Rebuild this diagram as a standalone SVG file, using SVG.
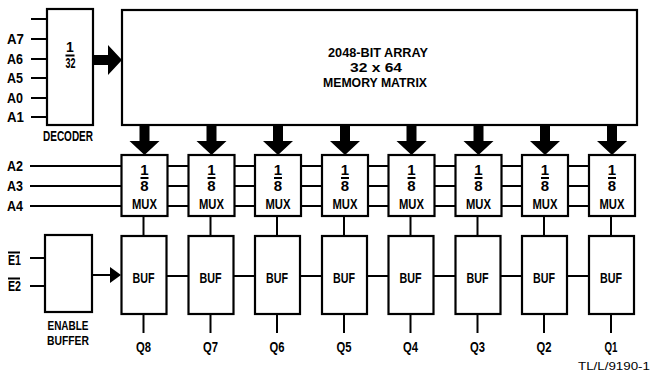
<svg xmlns="http://www.w3.org/2000/svg" width="651" height="380" viewBox="0 0 651 380">
<style>
.b{fill:#fff;stroke:#000;stroke-width:2.2}
.l{stroke:#000;stroke-width:2;fill:none}
.t{font-family:"Liberation Sans",Arial,sans-serif;font-weight:bold;font-size:14px;fill:#000}
.m{text-anchor:middle}
.f{font-size:15px}
.g{font-size:13px}
.s{font-family:"Liberation Sans",Arial,sans-serif;font-size:10px;fill:#000}
</style>
<g id="connectors">
<line class="l" x1="31" y1="19" x2="47" y2="19"/>
<line class="l" x1="31" y1="39" x2="47" y2="39"/>
<line class="l" x1="31" y1="59" x2="47" y2="59"/>
<line class="l" x1="31" y1="78" x2="47" y2="78"/>
<line class="l" x1="31" y1="98" x2="47" y2="98"/>
<line class="l" x1="31" y1="117" x2="47" y2="117"/>
<polygon points="93,55 108,55 108,45 122,60 108,75 108,65 93,65" fill="#000"/>
<line class="l" x1="30" y1="166" x2="590" y2="166"/>
<line class="l" x1="30" y1="186" x2="590" y2="186"/>
<line class="l" x1="30" y1="206" x2="590" y2="206"/>
<line class="l" x1="30" y1="258" x2="45" y2="258"/>
<line class="l" x1="30" y1="286" x2="45" y2="286"/>
<line class="l" x1="92" y1="275" x2="112" y2="275"/>
<polygon points="110,267 121,275 110,283" fill="#000"/>
<line class="l" x1="121" y1="276" x2="590" y2="276"/>
<g fill="#000">
<polygon points="139.5,125 149.5,125 149.5,141 159.5,141 144.5,155 129.5,141 139.5,141"/>
<polygon points="206.5,125 216.5,125 216.5,141 226.5,141 211.5,155 196.5,141 206.5,141"/>
<polygon points="273,125 283,125 283,141 293,141 278,155 263,141 273,141"/>
<polygon points="340,125 350,125 350,141 360,141 345,155 330,141 340,141"/>
<polygon points="406.5,125 416.5,125 416.5,141 426.5,141 411.5,155 396.5,141 406.5,141"/>
<polygon points="473.5,125 483.5,125 483.5,141 493.5,141 478.5,155 463.5,141 473.5,141"/>
<polygon points="540,125 550,125 550,141 560,141 545,155 530,141 540,141"/>
<polygon points="607,125 617,125 617,141 627,141 612,155 597,141 607,141"/>
</g>
<line class="l" x1="143.5" y1="216" x2="143.5" y2="236"/>
<line class="l" x1="210.5" y1="216" x2="210.5" y2="236"/>
<line class="l" x1="277" y1="216" x2="277" y2="236"/>
<line class="l" x1="344" y1="216" x2="344" y2="236"/>
<line class="l" x1="410.5" y1="216" x2="410.5" y2="236"/>
<line class="l" x1="477.5" y1="216" x2="477.5" y2="236"/>
<line class="l" x1="544" y1="216" x2="544" y2="236"/>
<line class="l" x1="611" y1="216" x2="611" y2="236"/>
<line class="l" x1="143.5" y1="314" x2="143.5" y2="333"/>
<line class="l" x1="210.5" y1="314" x2="210.5" y2="333"/>
<line class="l" x1="277" y1="314" x2="277" y2="333"/>
<line class="l" x1="344" y1="314" x2="344" y2="333"/>
<line class="l" x1="410.5" y1="314" x2="410.5" y2="333"/>
<line class="l" x1="477.5" y1="314" x2="477.5" y2="333"/>
<line class="l" x1="544" y1="314" x2="544" y2="333"/>
<line class="l" x1="611" y1="314" x2="611" y2="333"/>
</g>
<g id="labels">
<text class="t" x="7" y="44" textLength="17" lengthAdjust="spacingAndGlyphs">A7</text>
<text class="t" x="7" y="64" textLength="16" lengthAdjust="spacingAndGlyphs">A6</text>
<text class="t" x="7" y="83" textLength="16" lengthAdjust="spacingAndGlyphs">A5</text>
<text class="t" x="7" y="103" textLength="16" lengthAdjust="spacingAndGlyphs">A0</text>
<text class="t" x="7" y="122" textLength="17" lengthAdjust="spacingAndGlyphs">A1</text>
<text class="t" x="7" y="171" textLength="16" lengthAdjust="spacingAndGlyphs">A2</text>
<text class="t" x="7" y="191" textLength="16" lengthAdjust="spacingAndGlyphs">A3</text>
<text class="t" x="7" y="211" textLength="16" lengthAdjust="spacingAndGlyphs">A4</text>
<text class="t" x="8" y="265" textLength="13" lengthAdjust="spacingAndGlyphs">E1</text>
<line class="l" x1="8" y1="252.5" x2="20" y2="252.5" stroke-width="1.5"/>
<text class="t" x="8" y="291" textLength="13" lengthAdjust="spacingAndGlyphs">E2</text>
<line class="l" x1="8" y1="278.5" x2="20" y2="278.5" stroke-width="1.5"/>
<text class="t m" x="143.5" y="352" textLength="15" lengthAdjust="spacingAndGlyphs">Q8</text>
<text class="t m" x="210.5" y="352" textLength="15" lengthAdjust="spacingAndGlyphs">Q7</text>
<text class="t m" x="277" y="352" textLength="15" lengthAdjust="spacingAndGlyphs">Q6</text>
<text class="t m" x="344" y="352" textLength="15" lengthAdjust="spacingAndGlyphs">Q5</text>
<text class="t m" x="410.5" y="352" textLength="15" lengthAdjust="spacingAndGlyphs">Q4</text>
<text class="t m" x="477.5" y="352" textLength="15" lengthAdjust="spacingAndGlyphs">Q3</text>
<text class="t m" x="544" y="352" textLength="15" lengthAdjust="spacingAndGlyphs">Q2</text>
<text class="t m" x="611" y="352" textLength="13" lengthAdjust="spacingAndGlyphs">Q1</text>
<text class="s" x="578" y="370" textLength="72" lengthAdjust="spacingAndGlyphs">TL/L/9190-1</text>
</g>
<g id="decoder">
<rect class="b" x="47" y="9" width="46" height="116"/>
<text class="t m" x="70" y="52">1</text>
<line class="l" x1="65.5" y1="55.5" x2="74.5" y2="55.5" stroke-width="1.5"/>
<text class="t m" x="70.5" y="68" textLength="10" lengthAdjust="spacingAndGlyphs">32</text>
<text class="t m" x="68" y="141" textLength="50" lengthAdjust="spacingAndGlyphs">DECODER</text>
</g>
<g id="memory-matrix">
<rect class="b" x="122" y="10" width="515" height="115"/>
<text class="t g m" x="378" y="57" textLength="100" lengthAdjust="spacingAndGlyphs">2048-BIT ARRAY</text>
<text class="t g m" x="376" y="72" textLength="52" lengthAdjust="spacingAndGlyphs">32 x 64</text>
<text class="t g m" x="375" y="87" textLength="104" lengthAdjust="spacingAndGlyphs">MEMORY MATRIX</text>
</g>
<g id="mux1"><rect class="b" x="121.5" y="155" width="46" height="61"/><text class="t f m" x="144.5" y="175">1</text><line class="l" x1="140.5" y1="178" x2="148.5" y2="178" stroke-width="1.5"/><text class="t f m" x="144.5" y="191">8</text><text class="t m" x="144.5" y="209" textLength="25" lengthAdjust="spacingAndGlyphs">MUX</text></g>
<g id="mux2"><rect class="b" x="188.5" y="155" width="46" height="61"/><text class="t f m" x="211.5" y="175">1</text><line class="l" x1="207.5" y1="178" x2="215.5" y2="178" stroke-width="1.5"/><text class="t f m" x="211.5" y="191">8</text><text class="t m" x="211.5" y="209" textLength="25" lengthAdjust="spacingAndGlyphs">MUX</text></g>
<g id="mux3"><rect class="b" x="255" y="155" width="46" height="61"/><text class="t f m" x="278" y="175">1</text><line class="l" x1="274" y1="178" x2="282" y2="178" stroke-width="1.5"/><text class="t f m" x="278" y="191">8</text><text class="t m" x="278" y="209" textLength="25" lengthAdjust="spacingAndGlyphs">MUX</text></g>
<g id="mux4"><rect class="b" x="322" y="155" width="46" height="61"/><text class="t f m" x="345" y="175">1</text><line class="l" x1="341" y1="178" x2="349" y2="178" stroke-width="1.5"/><text class="t f m" x="345" y="191">8</text><text class="t m" x="345" y="209" textLength="25" lengthAdjust="spacingAndGlyphs">MUX</text></g>
<g id="mux5"><rect class="b" x="388.5" y="155" width="46" height="61"/><text class="t f m" x="411.5" y="175">1</text><line class="l" x1="407.5" y1="178" x2="415.5" y2="178" stroke-width="1.5"/><text class="t f m" x="411.5" y="191">8</text><text class="t m" x="411.5" y="209" textLength="25" lengthAdjust="spacingAndGlyphs">MUX</text></g>
<g id="mux6"><rect class="b" x="455.5" y="155" width="46" height="61"/><text class="t f m" x="478.5" y="175">1</text><line class="l" x1="474.5" y1="178" x2="482.5" y2="178" stroke-width="1.5"/><text class="t f m" x="478.5" y="191">8</text><text class="t m" x="478.5" y="209" textLength="25" lengthAdjust="spacingAndGlyphs">MUX</text></g>
<g id="mux7"><rect class="b" x="522" y="155" width="46" height="61"/><text class="t f m" x="545" y="175">1</text><line class="l" x1="541" y1="178" x2="549" y2="178" stroke-width="1.5"/><text class="t f m" x="545" y="191">8</text><text class="t m" x="545" y="209" textLength="25" lengthAdjust="spacingAndGlyphs">MUX</text></g>
<g id="mux8"><rect class="b" x="589" y="155" width="46" height="61"/><text class="t f m" x="612" y="175">1</text><line class="l" x1="608" y1="178" x2="616" y2="178" stroke-width="1.5"/><text class="t f m" x="612" y="191">8</text><text class="t m" x="612" y="209" textLength="25" lengthAdjust="spacingAndGlyphs">MUX</text></g>
<g id="enable-buffer">
<rect class="b" x="45" y="235" width="47" height="77"/>
<text class="t g m" x="68" y="330" textLength="41" lengthAdjust="spacingAndGlyphs">ENABLE</text>
<text class="t g m" x="68" y="345" textLength="42" lengthAdjust="spacingAndGlyphs">BUFFER</text>
</g>
<g id="buf8"><rect class="b" x="121.5" y="236" width="45" height="78"/><text class="t m" x="143.5" y="283" textLength="22" lengthAdjust="spacingAndGlyphs">BUF</text></g>
<g id="buf7"><rect class="b" x="188.5" y="236" width="45" height="78"/><text class="t m" x="210.5" y="283" textLength="22" lengthAdjust="spacingAndGlyphs">BUF</text></g>
<g id="buf6"><rect class="b" x="255" y="236" width="45" height="78"/><text class="t m" x="277" y="283" textLength="22" lengthAdjust="spacingAndGlyphs">BUF</text></g>
<g id="buf5"><rect class="b" x="322" y="236" width="45" height="78"/><text class="t m" x="344" y="283" textLength="22" lengthAdjust="spacingAndGlyphs">BUF</text></g>
<g id="buf4"><rect class="b" x="388.5" y="236" width="45" height="78"/><text class="t m" x="410.5" y="283" textLength="22" lengthAdjust="spacingAndGlyphs">BUF</text></g>
<g id="buf3"><rect class="b" x="455.5" y="236" width="45" height="78"/><text class="t m" x="477.5" y="283" textLength="22" lengthAdjust="spacingAndGlyphs">BUF</text></g>
<g id="buf2"><rect class="b" x="522" y="236" width="45" height="78"/><text class="t m" x="544" y="283" textLength="22" lengthAdjust="spacingAndGlyphs">BUF</text></g>
<g id="buf1"><rect class="b" x="589" y="236" width="45" height="78"/><text class="t m" x="611" y="283" textLength="22" lengthAdjust="spacingAndGlyphs">BUF</text></g>
</svg>
